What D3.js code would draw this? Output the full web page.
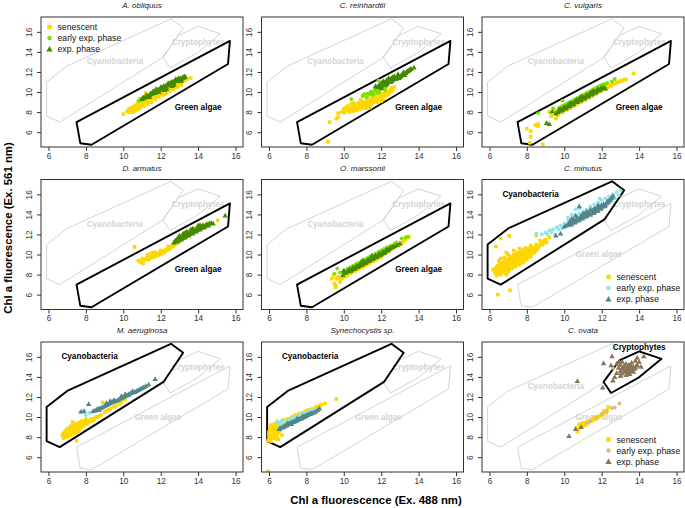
<!DOCTYPE html>
<html><head><meta charset="utf-8">
<script src="https://cdn.jsdelivr.net/npm/d3@7/dist/d3.min.js"></script>
<style>body{margin:0;background:#fff;} svg{display:block;font-family:"Liberation Sans",Arial,sans-serif;}</style>
</head><body><svg id="c" width="685" height="508"></svg>
<script>
// ---------- data ----------
const xTicks = [6, 8, 10, 12, 14, 16];
const yTicks = [6, 8, 10, 12, 14, 16];
const xDomain = [5.6, 16.4];
const yDomain = [4.52, 17.48];
const phaseLabels = ["senescent", "early exp. phase", "exp. phase"];
const speciesNames = ["A. obliquus", "C. reinhardtii", "C. vulgaris", "D. armatus", "O. marssonii", "C. minutus", "M. aeruginosa", "Synechocystis sp.", "C. ovata"];
const groupNames = ["Green algae", "Cyanobacteria", "Cryptophytes"];

const greenPoly = [[7.5,7.0],[7.7,4.9],[8.3,4.75],[15.6,12.8],[15.7,15.1]];
const cyanoPoly = [[5.9,11.0],[5.9,7.6],[6.6,7.0],[12.15,13.5],[13.2,16.4],[12.55,17.3],[7.0,12.6]];
const cryptoPoly = [[12.1,13.5],[12.5,12.4],[13.95,13.9],[15.2,15.8],[14.0,16.55],[12.95,15.65]];
const labelPosHi = [[14.0,8.5],[8.2,16.05],[14.0,17.0]];
const labelPosGray = [[11.85,10.0],[9.55,13.05],[14.0,15.0]];

const greenColors = ["#FFD700", "#7CE000", "#458B00"];
const cyanoColors = ["#FFD700", "#8EE5EE", "#53868B"];
const cryptoColors = ["#FFD700", "#DEB887", "#8B7355"];

// A. obliquus
const aobSen = [[10.0,7.8],[10.2,8.1],[10.3,8.3],[10.4,8.0],[10.4,8.4],[10.5,8.2],[10.5,8.5],[10.6,8.3],[10.6,8.6],[10.7,8.4],[10.7,8.7],[10.8,8.5],[10.8,8.8],[10.9,8.6],[10.9,9.0],[11.0,8.7],[11.0,9.1],[11.1,8.9],[11.1,9.2],[11.2,9.0],[11.2,9.3],[11.3,9.1],[11.4,9.3],[11.5,9.4],[11.6,9.5],[11.7,9.6],[11.8,9.7],[11.9,9.8],[12.0,9.9],[12.1,10.0],[12.2,10.1],[12.3,10.2],[12.4,10.3],[12.5,10.4],[12.6,10.5],[12.7,10.6],[12.8,10.7],[12.9,10.8],[13.0,10.9],[13.1,11.0],[13.2,11.1],[13.3,11.2],[13.4,11.3],[13.6,11.4],[11.2,9.9],[10.9,9.3],[11.5,9.7],[12.0,10.1],[12.5,10.6],[10.3,8.0],[10.5,8.0],[10.7,8.2],[10.9,8.4],[11.1,8.6],[11.3,8.8],[11.5,9.0],[11.7,9.3],[11.9,9.5],[12.1,9.7],[12.3,9.9],[12.5,10.1],[12.7,10.3],[12.9,10.5],[13.1,10.7],[10.6,8.1],[10.8,8.3],[11.4,9.0],[12.2,9.8]];
const aobEarly = [[10.8,9.1],[10.9,9.3],[11.1,9.5],[11.3,9.7],[11.5,9.9],[11.7,10.1],[11.9,10.3],[12.1,10.5],[12.3,10.7],[12.5,10.9],[12.7,11.1],[12.9,11.2],[13.1,11.4],[13.3,11.6],[11.2,9.4],[11.6,9.8],[12.0,10.2],[12.4,10.6],[12.8,11.0],[10.95,9.2],[11.15,9.45],[11.35,9.65],[11.55,9.85],[11.75,10.0],[11.95,10.2],[12.15,10.4],[12.35,10.6],[12.55,10.8],[12.75,11.0],[12.95,11.3],[13.15,11.5]];
const aobExp = [[11.0,9.3],[11.1,9.4],[11.2,9.6],[11.3,9.5],[11.4,9.7],[11.5,9.8],[11.6,9.9],[11.7,9.9],[11.8,10.1],[11.9,10.2],[12.0,10.3],[12.1,10.3],[12.2,10.5],[12.3,10.5],[12.4,10.7],[12.5,10.7],[12.6,10.9],[12.7,10.9],[12.8,11.1],[12.9,11.1],[13.0,11.2],[13.1,11.3],[13.2,11.4],[13.3,11.5],[11.6,10.1],[12.0,10.5],[12.4,10.9],[12.8,11.3],[11.4,9.5],[12.2,10.2],[12.6,10.6],[11.05,9.45],[11.25,9.65],[11.45,9.85],[11.65,10.0],[11.85,10.2],[12.05,10.4],[12.25,10.6],[12.45,10.8],[12.65,11.0],[12.85,11.2],[13.05,11.35],[13.25,11.55],[11.75,10.3],[12.15,10.6],[12.55,11.0],[12.95,11.4],[11.9,10.0],[12.3,10.3],[12.7,10.7],[13.1,11.1]];
// C. reinhardtii
const crSen = [[9.15,5.05],[9.25,7.0],[9.6,7.35],[9.7,7.5],[9.7,7.9],[9.9,8.0],[10.05,7.95],[11.4,8.45],[10.0,8.3],[10.2,8.2],[10.3,8.5],[10.4,8.3],[10.5,8.6],[10.6,8.4],[10.6,8.8],[10.7,8.2],[10.8,8.5],[10.8,8.9],[10.9,8.7],[11.0,8.4],[11.0,9.0],[11.1,8.6],[11.1,8.9],[11.2,8.7],[11.2,9.1],[11.3,8.9],[11.3,9.3],[11.4,9.0],[11.5,9.2],[11.5,8.8],[11.6,9.4],[11.7,9.1],[11.7,9.5],[11.8,9.3],[11.9,9.6],[12.0,9.4],[12.0,9.8],[12.1,9.6],[12.2,9.9],[12.3,10.0],[12.4,10.1],[12.5,10.3],[12.6,10.4],[12.7,10.5],[10.4,8.8],[10.9,9.2],[10.2,8.6],[10.3,8.0],[10.5,8.1],[10.7,8.6],[10.9,8.3],[11.0,8.7],[11.2,8.4],[11.4,8.7],[11.4,9.3],[11.6,9.0],[11.8,9.0],[11.9,9.3],[12.1,9.3],[12.2,9.6],[12.3,9.7],[12.4,9.8],[12.5,10.0],[12.6,10.1],[10.1,8.4],[10.5,8.9],[11.6,9.7],[12.0,9.1]];
const crEarly = [[10.4,9.3],[11.0,9.6],[11.1,9.8],[11.3,9.7],[11.4,9.9],[11.5,10.0],[11.6,9.8],[11.7,10.1],[11.8,10.2],[11.9,10.0],[12.0,10.3],[12.1,10.4],[12.2,10.2],[11.85,11.15],[11.2,9.5],[11.05,9.7],[11.25,9.85],[11.45,10.05],[11.65,10.25],[11.85,10.4],[12.05,10.55],[12.25,10.5],[12.35,10.7],[11.5,9.7],[11.8,9.9]];
const crExp = [[11.8,10.5],[11.9,10.7],[12.0,10.6],[12.1,10.8],[12.2,10.7],[12.2,11.0],[12.3,10.9],[12.4,11.1],[12.5,11.0],[12.5,11.3],[12.6,11.2],[12.7,11.4],[12.8,11.3],[12.9,11.6],[13.0,11.5],[13.1,11.7],[13.2,11.8],[13.3,11.9],[13.4,12.1],[13.5,12.2],[13.6,12.3],[13.75,12.45],[12.0,10.9],[12.4,11.4],[12.7,11.6],[12.0,10.4],[11.7,10.6],[11.85,10.6],[11.95,10.8],[12.05,10.7],[12.15,10.9],[12.25,10.8],[12.35,11.0],[12.45,11.2],[12.55,11.1],[12.65,11.3],[12.75,11.3],[12.85,11.5],[12.95,11.4],[13.05,11.6],[13.15,11.8],[13.25,11.7],[13.35,12.0],[13.45,12.1],[13.55,12.3],[12.1,11.1],[12.3,11.2],[12.6,11.5],[12.9,11.8],[13.2,12.0]];
// C. vulgaris
const cvSen = [[8.0,6.35],[8.2,6.1],[8.2,5.55],[8.15,4.95],[8.85,4.8],[8.45,6.7],[8.6,6.8],[9.2,8.0],[9.55,7.35],[9.65,7.7],[8.6,6.6],[9.3,7.6],[9.7,7.9],[9.8,8.1],[9.9,7.95],[10.0,8.3],[10.1,8.2],[10.2,8.5],[10.3,8.4],[10.4,8.7],[10.5,8.6],[10.6,8.9],[10.7,8.8],[10.8,9.1],[10.9,9.0],[11.0,9.3],[11.1,9.2],[11.2,9.5],[11.3,9.4],[11.4,9.7],[11.5,9.6],[11.6,9.9],[11.7,9.8],[11.8,10.0],[11.9,10.1],[12.0,10.2],[12.1,10.3],[12.2,10.4],[12.35,10.5],[12.5,10.6],[12.7,10.8],[12.9,11.0],[13.1,11.15],[13.3,11.25],[13.7,11.85],[9.45,8.2],[9.9,8.6],[9.75,8.0],[9.85,8.2],[10.05,8.4],[10.15,8.3],[10.25,8.6],[10.45,8.7],[10.55,8.9],[10.75,9.0],[10.85,9.2],[11.05,9.4],[11.25,9.6],[11.45,9.8],[11.65,10.0],[11.85,10.2],[12.05,10.4],[12.25,10.5],[12.45,10.7],[12.6,10.8],[12.8,10.95],[13.0,11.1],[13.2,11.25],[9.6,8.1]];
const cvEarly = [[8.6,7.9],[9.55,8.0],[9.9,9.15],[10.7,9.3],[9.8,8.5],[10.0,8.7],[10.2,8.9],[10.4,9.1],[10.6,9.3],[10.8,9.5],[11.0,9.7],[11.2,9.9],[11.4,10.1],[11.6,10.3],[11.8,10.5],[12.0,10.7],[12.2,10.8],[12.55,11.05],[9.4,8.4],[12.7,11.3],[9.7,8.4],[9.9,8.6],[10.1,8.8],[10.3,9.0],[10.5,9.2],[10.7,9.4],[10.9,9.6],[11.1,9.8],[11.3,10.0],[11.5,10.2],[11.7,10.4],[11.9,10.6],[12.1,10.75],[12.3,10.9]];
const cvExp = [[9.05,6.9],[9.2,6.8],[9.55,7.85],[9.7,8.1],[9.8,8.3],[9.9,8.2],[10.0,8.5],[10.1,8.4],[10.2,8.7],[10.3,8.6],[10.4,8.9],[10.5,8.8],[10.6,9.1],[10.7,9.0],[10.8,9.3],[10.9,9.2],[11.0,9.5],[11.1,9.4],[11.2,9.7],[11.3,9.6],[11.4,9.9],[11.5,9.8],[11.6,10.1],[11.7,10.0],[11.8,10.3],[11.9,10.2],[12.0,10.4],[12.2,10.35],[10.65,9.25],[10.3,8.9],[10.9,9.55],[11.5,10.05],[9.35,8.05],[9.65,8.0],[9.75,8.25],[9.85,8.15],[9.95,8.4],[10.05,8.35],[10.15,8.6],[10.25,8.55],[10.35,8.8],[10.45,8.75],[10.55,9.0],[10.75,9.2],[10.85,9.15],[10.95,9.4],[11.05,9.35],[11.15,9.6],[11.25,9.55],[11.35,9.8],[11.45,9.75],[11.55,10.0],[11.65,9.95],[11.75,10.2],[11.85,10.15],[11.95,10.35],[12.1,10.45]];
// D. armatus
const daSen = [[10.6,10.75],[10.8,9.4],[10.9,9.25],[11.05,9.1],[11.0,9.6],[11.2,9.5],[11.3,9.7],[11.4,9.6],[11.5,9.8],[11.6,9.9],[11.7,9.8],[11.8,10.0],[11.9,10.1],[12.0,10.0],[12.1,10.3],[12.2,10.2],[12.3,10.4],[12.4,10.5],[12.5,10.6],[12.6,10.8],[12.7,10.9],[12.8,11.1],[12.9,11.2],[13.0,11.4],[13.1,11.5],[13.2,11.7],[13.3,11.8],[13.4,12.0],[13.5,12.1],[13.6,12.3],[13.7,12.4],[13.8,12.5],[13.9,12.6],[14.0,12.8],[14.1,12.9],[14.3,13.0],[14.6,13.1],[15.05,13.4],[12.0,10.4],[11.6,10.2],[12.4,10.8],[11.1,9.4],[11.25,9.6],[11.35,9.5],[11.45,9.75],[11.55,9.7],[11.65,9.95],[11.75,10.05],[11.85,9.9],[11.95,10.2],[12.05,10.15],[12.15,10.35],[12.25,10.45],[12.35,10.55],[12.45,10.6],[12.55,10.75],[12.65,10.85],[12.75,11.0],[12.85,11.15],[12.95,11.3],[13.05,11.35],[13.15,11.55],[13.25,11.65],[13.35,11.85],[13.45,11.95],[13.55,12.15],[13.65,12.25],[13.75,12.4],[13.85,12.45],[13.95,12.6],[14.05,12.75],[14.2,12.85],[11.3,10.0],[11.7,10.2],[11.5,10.1]];
const daEarly = [[12.75,11.2],[13.4,12.0],[13.0,11.6],[13.2,11.8],[13.6,12.3],[12.9,11.5],[13.1,11.75],[13.3,12.0],[13.5,12.2],[13.8,12.55],[14.1,12.85],[12.85,11.45]];
const daExp = [[12.7,11.2],[12.8,11.4],[12.9,11.3],[13.0,11.6],[13.1,11.5],[13.2,11.8],[13.3,11.7],[13.4,12.0],[13.5,11.9],[13.6,12.2],[13.7,12.1],[13.8,12.4],[13.9,12.3],[14.0,12.6],[14.1,12.5],[14.2,12.8],[14.3,12.7],[14.4,12.9],[14.5,13.0],[14.6,13.1],[14.8,13.1],[13.2,12.1],[13.6,12.5],[14.0,12.9],[15.45,13.9],[13.0,11.9],[13.4,12.3],[12.75,11.3],[12.85,11.5],[12.95,11.45],[13.05,11.7],[13.15,11.65],[13.25,11.9],[13.35,11.85],[13.45,12.1],[13.55,12.05],[13.65,12.35],[13.75,12.25],[13.85,12.5],[13.95,12.45],[14.05,12.7],[14.15,12.65],[14.25,12.9],[14.35,12.8],[14.45,13.0],[14.55,12.9],[14.7,13.15],[13.3,12.2],[13.7,12.6],[14.1,12.95],[12.9,11.6]];
// O. marssonii
const omSen = [[9.35,7.6],[9.5,7.1],[9.6,6.85],[9.55,6.75],[9.8,7.25],[9.95,7.75],[9.45,7.9],[9.6,7.6],[9.7,7.8],[9.8,7.5],[10.0,7.9],[10.1,8.1],[10.2,8.0],[10.3,8.3],[10.4,8.2],[10.5,8.5],[10.6,8.4],[10.7,8.7],[10.8,8.6],[10.9,8.9],[11.0,8.8],[11.1,9.1],[11.2,9.0],[11.3,9.3],[11.4,9.2],[11.5,9.5],[11.6,9.4],[11.7,9.6],[11.8,9.7],[11.9,9.9],[12.0,9.8],[12.1,10.0],[12.2,10.2],[12.3,10.3],[12.4,10.4],[12.6,10.6],[12.8,10.8],[13.0,11.0],[13.2,11.3],[13.4,11.7],[13.5,11.8],[10.05,8.0],[10.15,7.95],[10.25,8.2],[10.35,8.1],[10.45,8.4],[10.55,8.3],[10.65,8.55],[10.75,8.5],[10.85,8.75],[10.95,8.7],[11.05,9.0],[11.15,8.9],[11.25,9.2],[11.35,9.1],[11.45,9.35],[11.55,9.3],[11.65,9.55],[11.75,9.5],[11.85,9.75],[11.95,9.7],[12.05,9.95],[12.15,10.1],[12.25,10.2],[12.35,10.35],[12.5,10.5],[12.7,10.7],[12.9,10.9],[13.1,11.15],[13.3,11.5],[9.9,7.6],[10.1,7.8]];
const omEarly = [[9.5,8.1],[9.65,8.6],[9.95,8.25],[10.2,8.6],[10.5,8.9],[10.8,9.2],[11.1,9.5],[11.4,9.8],[11.7,10.1],[12.0,10.4],[12.3,10.7],[12.55,10.9],[13.1,11.6],[13.4,11.75],[12.8,11.2],[10.05,8.4],[10.35,8.75],[10.65,9.05],[10.95,9.35],[11.25,9.65],[11.55,9.95],[11.85,10.25],[12.15,10.55],[12.45,10.8],[12.7,11.05],[13.3,11.7],[9.8,8.2]];
const omExp = [[9.95,7.95],[10.05,8.15],[10.2,8.3],[10.3,8.5],[10.4,8.45],[10.5,8.7],[10.6,8.65],[10.7,8.9],[10.8,8.85],[10.9,9.1],[11.0,9.05],[11.1,9.3],[11.2,9.25],[11.3,9.5],[11.4,9.45],[11.5,9.7],[11.6,9.65],[11.7,9.9],[11.8,9.85],[11.9,10.1],[12.0,10.05],[12.1,10.3],[12.2,10.25],[12.3,10.5],[12.4,10.5],[12.55,10.7],[12.7,10.85],[13.0,11.1],[10.0,8.4],[11.0,9.4],[11.5,9.9],[10.1,8.2],[10.25,8.4],[10.35,8.35],[10.45,8.6],[10.55,8.55],[10.65,8.8],[10.75,8.75],[10.85,9.0],[10.95,8.95],[11.05,9.2],[11.15,9.15],[11.25,9.4],[11.35,9.35],[11.45,9.6],[11.55,9.55],[11.65,9.8],[11.75,9.75],[11.85,10.0],[11.95,9.95],[12.05,10.2],[12.15,10.15],[12.25,10.4],[12.35,10.4],[12.45,10.6],[12.6,10.75],[12.85,10.95]];
// C. minutus
const cmSen = [[6.45,6.0],[7.1,6.45],[6.35,10.8],[6.6,11.6],[7.05,11.85],[8.5,11.9],[9.0,11.45],[9.2,11.7],[6.45,8.9],[6.2,8.5],[6.3,8.2],[6.4,7.9],[6.4,8.4],[6.4,8.8],[6.6,8.0],[6.6,8.5],[6.6,9.0],[6.7,8.3],[6.7,8.8],[6.8,8.2],[6.8,8.7],[6.8,9.3],[6.9,8.5],[6.9,9.0],[7.0,8.3],[7.0,8.9],[7.0,9.5],[7.1,8.7],[7.1,9.2],[7.2,8.6],[7.2,9.1],[7.2,9.7],[7.3,8.9],[7.3,9.4],[7.3,10.0],[7.4,8.8],[7.4,9.3],[7.4,9.9],[7.5,9.1],[7.5,9.6],[7.5,10.2],[7.6,9.0],[7.6,9.6],[7.6,10.1],[7.7,9.3],[7.7,9.8],[7.7,10.4],[7.8,9.2],[7.8,9.8],[7.8,10.3],[7.9,9.5],[7.9,10.0],[7.9,10.6],[8.0,9.5],[8.0,10.1],[8.0,10.6],[8.1,9.8],[8.1,10.3],[8.2,9.8],[8.2,10.4],[8.2,10.9],[8.3,10.1],[8.3,10.6],[8.4,10.2],[8.4,10.7],[8.5,10.4],[8.5,11.0],[8.6,10.6],[8.7,10.9],[8.8,11.1],[8.9,11.3],[8.7,11.4],[6.5,8.2],[6.9,8.0],[7.1,9.8],[6.5,9.4],[6.3,8.6],[6.35,8.0],[6.45,8.6],[6.5,8.7],[6.55,8.3],[6.55,9.1],[6.65,8.6],[6.65,9.2],[6.75,8.5],[6.75,9.0],[6.85,8.4],[6.85,8.9],[6.85,9.5],[6.95,8.7],[6.95,9.2],[7.05,8.5],[7.05,9.0],[7.05,9.6],[7.15,8.9],[7.15,9.4],[7.25,8.8],[7.25,9.3],[7.25,9.8],[7.35,9.1],[7.35,9.6],[7.45,9.0],[7.45,9.5],[7.45,10.0],[7.55,9.3],[7.55,9.8],[7.65,9.2],[7.65,9.7],[7.65,10.2],[7.75,9.5],[7.75,10.0],[7.85,9.4],[7.85,9.9],[7.85,10.5],[7.95,9.7],[7.95,10.3],[8.05,9.8],[8.05,10.4],[8.15,10.0],[8.15,10.6],[8.25,10.2],[8.25,10.7],[8.35,10.4],[8.45,10.5],[8.55,10.7],[8.65,10.9],[8.75,11.1],[8.85,11.0],[8.95,11.4],[9.05,11.2],[6.9,10.2],[7.0,10.0],[6.8,9.7],[6.6,9.6],[7.3,10.4],[7.6,10.6]];
const cmEarly = [[8.5,12.1],[9.2,12.4],[9.4,12.5],[9.6,12.7],[9.8,12.9],[10.0,13.1],[10.2,13.4],[10.4,13.6],[10.6,13.9],[10.6,14.5],[10.8,14.1],[11.0,14.3],[11.2,14.5],[11.4,14.8],[11.6,15.0],[11.8,15.2],[12.0,15.4],[12.2,15.6],[12.4,15.8],[12.6,16.0],[12.8,16.2],[13.0,16.4],[9.5,12.0],[9.9,12.6],[10.3,12.9],[10.8,14.6],[9.0,12.2],[12.4,15.5],[11.9,15.6],[9.3,12.25],[9.7,12.5],[10.1,12.9],[10.5,13.3],[10.7,13.5],[10.9,13.7],[11.1,13.9],[11.3,14.1],[11.5,14.3],[11.7,14.5],[11.9,14.7],[12.1,14.9],[12.3,15.1],[12.5,15.3],[12.7,15.6],[12.9,15.9],[10.2,13.7],[10.4,14.0],[9.1,12.0],[8.8,12.0]];
const cmExp = [[9.55,11.9],[9.8,12.1],[10.0,12.8],[10.2,13.0],[10.3,13.3],[10.4,13.1],[10.5,13.5],[10.6,13.3],[10.7,13.7],[10.8,13.5],[10.9,13.9],[11.0,13.7],[11.1,14.1],[11.2,13.9],[11.3,14.2],[11.4,14.0],[11.5,14.4],[11.6,14.2],[11.7,14.6],[11.8,14.4],[11.9,14.8],[12.0,14.7],[12.1,15.0],[12.2,14.9],[12.3,15.3],[12.4,15.4],[12.5,15.6],[12.6,15.85],[10.8,14.8],[11.0,14.1],[11.4,14.5],[11.8,14.9],[10.4,13.6],[10.6,13.9],[10.1,12.9],[10.25,13.15],[10.35,13.0],[10.45,13.35],[10.55,13.2],[10.65,13.55],[10.75,13.4],[10.85,13.75],[10.95,13.6],[11.05,13.95],[11.15,13.8],[11.25,14.15],[11.35,14.0],[11.45,14.3],[11.55,14.15],[11.65,14.45],[11.75,14.35],[11.85,14.65],[11.95,14.55],[12.05,14.85],[12.15,14.8],[12.25,15.1],[12.35,15.2],[12.45,15.45],[12.55,15.7],[11.2,14.3],[11.6,14.6],[12.0,14.95]];
// M. aeruginosa
const maSen = [[6.75,8.2],[6.8,8.4],[6.9,8.0],[6.9,8.6],[7.0,8.3],[7.0,8.8],[7.1,8.5],[7.1,8.9],[7.2,8.2],[7.2,8.7],[7.2,9.1],[7.3,8.6],[7.3,9.0],[7.4,8.4],[7.4,8.8],[7.4,9.3],[7.5,7.65],[7.5,8.7],[7.5,9.1],[7.6,8.9],[7.6,9.4],[7.7,9.0],[7.7,9.5],[7.8,9.2],[7.8,9.6],[7.9,9.3],[8.0,9.5],[8.0,9.8],[8.1,9.4],[8.2,9.6],[8.3,9.8],[8.4,9.7],[8.5,9.9],[8.6,10.0],[8.8,10.2],[8.9,11.45],[9.0,10.5],[9.2,10.7],[9.45,11.6],[9.5,11.0],[9.8,11.3],[10.0,11.75],[7.3,9.5],[6.8,7.9],[7.6,8.5],[6.85,8.1],[6.95,8.4],[7.05,8.1],[7.05,8.6],[7.15,8.3],[7.15,8.75],[7.25,8.5],[7.25,8.9],[7.35,8.4],[7.35,8.8],[7.45,8.6],[7.45,9.0],[7.55,8.8],[7.55,9.2],[7.65,8.7],[7.65,9.1],[7.75,9.0],[7.75,9.4],[7.85,9.1],[7.85,9.5],[7.95,9.4],[8.05,9.3],[8.05,9.6],[8.15,9.5],[8.25,9.7],[8.35,9.6],[8.45,9.8],[8.55,10.0],[8.7,10.1],[9.1,10.6],[9.3,10.8],[9.6,11.1],[9.9,11.5],[10.1,11.8],[7.0,8.0]];
const maEarly = [[7.7,10.5],[8.2,10.4],[8.5,10.6],[8.8,10.9],[9.1,11.1],[9.4,11.4],[9.7,11.6],[10.0,11.9],[10.3,12.1],[8.0,10.2],[7.9,10.55],[8.35,10.5],[8.65,10.75],[8.95,11.0],[9.25,11.25],[9.55,11.5],[9.85,11.75]];
const maExp = [[7.75,10.55],[7.9,10.6],[8.15,11.3],[8.4,10.6],[8.6,10.8],[8.8,10.9],[9.0,11.1],[9.2,11.3],[9.4,11.5],[9.6,11.6],[9.8,11.8],[10.0,12.0],[10.2,12.2],[10.4,12.4],[10.6,12.5],[10.8,12.7],[11.0,12.9],[11.2,13.1],[11.35,13.25],[11.7,13.8],[9.1,11.4],[9.5,11.7],[9.9,12.1],[10.3,12.3],[8.7,10.7],[8.5,10.65],[8.7,10.85],[8.9,11.0],[9.1,11.2],[9.3,11.4],[9.5,11.55],[9.7,11.7],[9.9,11.9],[10.1,12.1],[10.3,12.25],[10.5,12.45],[10.7,12.6],[10.9,12.8],[11.1,13.0],[9.3,11.6],[10.5,12.6],[10.1,12.3]];
// Synechocystis sp.
const syFSen = [[5.95,7.65],[5.95,4.6],[6.0,8.0],[6.0,8.5],[6.05,8.9],[6.1,8.2],[6.1,9.2],[6.2,7.9],[6.2,8.6],[6.2,9.0],[6.3,8.3],[6.3,8.8],[6.3,9.3],[6.4,8.1],[6.4,8.6],[6.4,9.4],[6.5,8.5],[6.5,9.0],[6.6,8.7],[6.6,9.3],[6.7,9.5],[6.8,9.0],[6.8,9.7],[6.9,9.3],[7.0,9.8],[7.1,9.5],[7.2,10.0],[7.3,9.7],[7.4,10.2],[7.5,9.9],[7.6,10.3],[7.8,10.4],[8.0,10.6],[8.3,10.8],[8.5,10.95],[8.7,11.1],[9.0,11.35],[9.6,11.8],[6.5,7.8],[6.7,8.2],[6.0,8.3],[6.05,7.8],[6.1,8.6],[6.15,8.0],[6.15,8.9],[6.25,8.2],[6.25,8.8],[6.35,8.4],[6.35,9.0],[6.45,8.3],[6.45,8.8],[6.55,8.6],[6.55,9.2],[6.65,8.9],[6.65,9.5],[6.75,9.2],[6.85,9.4],[6.95,9.6],[7.05,9.6],[7.15,9.8],[7.25,9.85],[7.35,10.0],[7.45,10.05],[7.55,10.15],[7.7,10.35],[7.9,10.5],[8.1,10.7],[8.6,11.0],[8.8,11.25],[6.3,7.9],[6.1,7.6],[6.4,7.8]];
const syEarly = [[6.45,9.6],[6.6,9.2],[6.8,9.4],[7.0,9.6],[7.2,9.8],[7.4,10.0],[7.6,10.1],[7.8,10.3],[8.0,10.4],[8.2,10.6],[8.4,10.7],[6.7,9.7],[6.55,9.4],[6.9,9.5],[7.1,9.7],[7.3,9.9],[7.5,10.05],[7.7,10.2],[7.9,10.35],[8.1,10.5],[8.3,10.65]];
const syExp = [[6.55,8.8],[6.7,8.95],[6.8,9.05],[6.9,9.15],[7.0,9.25],[7.1,9.35],[7.2,9.45],[7.3,9.5],[7.4,9.6],[7.5,9.7],[7.6,9.8],[7.7,9.85],[7.8,9.95],[7.9,10.05],[8.0,10.15],[8.1,10.25],[8.2,10.3],[8.3,10.4],[8.5,10.55],[8.7,10.85],[7.0,9.4],[7.5,9.85],[7.2,9.3],[7.8,10.1],[6.6,8.9],[6.75,9.0],[6.85,9.1],[6.95,9.2],[7.05,9.3],[7.15,9.4],[7.25,9.5],[7.35,9.55],[7.45,9.65],[7.55,9.75],[7.65,9.8],[7.75,9.9],[7.85,10.0],[7.95,10.1],[8.05,10.2],[8.15,10.3],[8.25,10.35],[8.4,10.45],[8.6,10.7]];
// C. ovata
const coSen = [[10.7,8.55],[10.65,8.9],[10.75,8.75],[10.85,9.3],[10.9,9.0],[11.0,9.1],[11.05,9.35],[11.15,9.3],[11.2,9.5],[11.3,9.45],[11.4,9.6],[11.5,9.7],[11.6,9.8],[11.7,9.85],[11.8,10.0],[11.9,10.1],[12.0,10.2],[12.1,10.35],[12.2,10.5],[12.3,10.7],[12.35,11.0],[12.1,10.6],[11.6,10.0],[11.0,9.4],[10.8,9.2],[11.1,9.2],[11.25,9.4],[11.35,9.55],[11.45,9.65],[11.55,9.75],[11.75,9.95],[11.85,10.05],[11.95,10.15],[12.05,10.3],[12.15,10.45],[12.25,10.6]];
const coEarly = [[11.4,9.6],[11.7,9.9],[12.0,10.3],[12.25,10.55],[12.55,10.9],[12.95,11.35],[12.7,10.95],[11.2,9.4],[13.1,14.2],[13.2,14.6],[12.6,14.9]];
const coExp = [[12.55,16.05],[12.1,15.35],[12.5,15.15],[10.7,13.6],[12.05,12.95],[12.6,13.65],[14.25,16.05],[10.25,8.1],[10.6,8.8],[10.9,9.0],[12.8,15.3],[12.9,14.9],[13.0,15.2],[13.0,14.6],[13.1,14.9],[13.1,15.5],[13.2,14.5],[13.2,15.1],[13.3,14.7],[13.3,15.3],[13.4,14.4],[13.4,14.9],[13.5,15.1],[13.5,14.6],[13.6,14.8],[13.6,15.4],[13.7,14.5],[13.7,15.0],[13.8,14.9],[13.8,15.6],[13.9,15.2],[14.0,15.5],[14.1,15.0],[13.3,14.2],[13.0,14.1],[12.8,14.4],[13.9,15.9],[12.7,14.0],[13.5,14.3],[13.15,14.8],[13.25,15.0],[13.35,14.5],[13.45,15.2],[13.55,14.9],[13.65,14.6],[13.75,14.8],[13.85,15.1],[13.4,14.7],[13.6,15.0],[12.95,15.5],[13.05,14.4]];

const seriesByPanel = [
  [aobSen, aobEarly, aobExp], [crSen, crEarly, crExp], [cvSen, cvEarly, cvExp],
  [daSen, daEarly, daExp], [omSen, omEarly, omExp], [cmSen, cmEarly, cmExp],
  [maSen, maEarly, maExp], [syFSen, syEarly, syExp], [coSen, coEarly, coExp]
];
const highlightByPanel = [0, 0, 0, 0, 0, 1, 1, 1, 2];
const colorsByGroup = [greenColors, cyanoColors, cryptoColors];

// ---------- layout ----------
const colLeft = [41, 261.5, 482];
const rowTop = [17, 179.5, 342];
const W = 202, H = 130;
const polys = [greenPoly, cyanoPoly, cryptoPoly];
const grayCol = "#d4d4d4";
const axisCol = "#333";

const svg = d3.select("#c");

function drawMarker(g, kind, x, y, color, big) {
  if (kind === 0) {
    const s = big ? 4.4 : 3.6;
    g.append("rect").attr("x", x - s/2).attr("y", y - s/2).attr("width", s).attr("height", s).attr("fill", color);
  } else if (kind === 1) {
    g.append("circle").attr("cx", x).attr("cy", y).attr("r", big ? 2.3 : 1.9).attr("fill", color);
  } else {
    g.append("path").attr("d", d3.symbol(d3.symbolTriangle, big ? 18 : 13)()).attr("transform", `translate(${x},${y + (big ? 0.6 : 0.4)})`).attr("fill", color);
  }
}

speciesNames.forEach((name, i) => {
  const L = colLeft[i % 3], T = rowTop[Math.floor(i / 3)];
  const x = d3.scaleLinear().domain(xDomain).range([L, L + W]);
  const y = d3.scaleLinear().domain(yDomain).range([T + H, T]);
  const hi = highlightByPanel[i];
  const cols = colorsByGroup[hi];
  const g = svg.append("g");

  const clipId = "clip" + i;
  g.append("clipPath").attr("id", clipId).append("rect").attr("x", L).attr("y", T).attr("width", W).attr("height", H);
  const pg = g.append("g").attr("clip-path", `url(#${clipId})`);

  const line = d3.line().x(d => x(d[0])).y(d => y(d[1]));
  polys.forEach((p, k) => {
    if (k === hi) return;
    pg.append("path").attr("d", line(p) + "Z").attr("fill", "none").attr("stroke", grayCol).attr("stroke-width", 1);
    pg.append("text").attr("x", x(labelPosGray[k][0])).attr("y", y(labelPosGray[k][1])).attr("dy", "0.35em")
      .attr("text-anchor", "middle").attr("font-size", 8.2).attr("font-weight", "bold").attr("fill", grayCol).text(groupNames[k]);
  });
  pg.append("path").attr("d", line(polys[hi]) + "Z").attr("fill", "none").attr("stroke", "#000").attr("stroke-width", 1.9).attr("stroke-linejoin", "round");
  pg.append("text").attr("x", x(labelPosHi[hi][0])).attr("y", y(labelPosHi[hi][1])).attr("dy", "0.35em")
    .attr("text-anchor", "middle").attr("font-size", 8.2).attr("font-weight", "bold").attr("fill", "#000").text(groupNames[hi]);

  seriesByPanel[i].forEach((arr, k) => {
    arr.forEach(d => drawMarker(pg, k, x(d[0]), y(d[1]), cols[k], false));
  });

  g.append("rect").attr("x", L).attr("y", T).attr("width", W).attr("height", H).attr("fill", "none").attr("stroke", axisCol).attr("stroke-width", 1);

  const ax = g.append("g").attr("transform", `translate(0,${T + H})`).call(d3.axisBottom(x).tickValues(xTicks).tickSize(4).tickPadding(2).tickFormat(d3.format("d")));
  ax.select(".domain").remove();
  ax.selectAll("line").attr("stroke", axisCol);
  ax.selectAll("text").attr("font-size", 8.2).attr("fill", "#333").attr("font-family", "Liberation Sans, Arial, sans-serif");
  const ay = g.append("g").attr("transform", `translate(${L},0)`).call(d3.axisLeft(y).tickValues(yTicks).tickSize(4).tickFormat(d3.format("d")));
  ay.select(".domain").remove();
  ay.selectAll("line").attr("stroke", axisCol);
  ay.selectAll("text").remove();
  ay.selectAll(".tick").append("text").attr("transform", "rotate(-90)").attr("x", 0).attr("y", -9.5)
    .attr("text-anchor", "middle").attr("font-size", 8.2).attr("fill", "#333").attr("font-family", "Liberation Sans, Arial, sans-serif").text(d => d);

  g.append("text").attr("x", L + W / 2).attr("y", T - 9).attr("text-anchor", "middle").attr("font-size", 8).attr("font-style", "italic").attr("fill", "#222").text(name);

  let leg = null;
  if (i === 0) leg = { mx: L + 8.5, tx: L + 16.5, ys: [T + 10, T + 21, T + 32] };
  if (i === 5 || i === 8) leg = { mx: L + 126.5, tx: L + 134.5, ys: [T + 97.5, T + 108.5, T + 119.5] };
  if (leg) {
    phaseLabels.forEach((lab, k) => {
      drawMarker(g, k, leg.mx, leg.ys[k], cols[k], true);
      g.append("text").attr("x", leg.tx).attr("y", leg.ys[k]).attr("dy", "0.35em").attr("font-size", 8.7).attr("fill", "#111").text(lab);
    });
  }
});

svg.append("text").attr("x", 376).attr("y", 504).attr("text-anchor", "middle").attr("font-size", 11.4).attr("font-weight", "bold").attr("fill", "#000").text("Chl a fluorescence (Ex. 488 nm)");
svg.append("text").attr("transform", "translate(12,228) rotate(-90)").attr("text-anchor", "middle").attr("font-size", 11.4).attr("font-weight", "bold").attr("fill", "#000").text("Chl a fluorescence (Ex. 561 nm)");
</script></body></html>
